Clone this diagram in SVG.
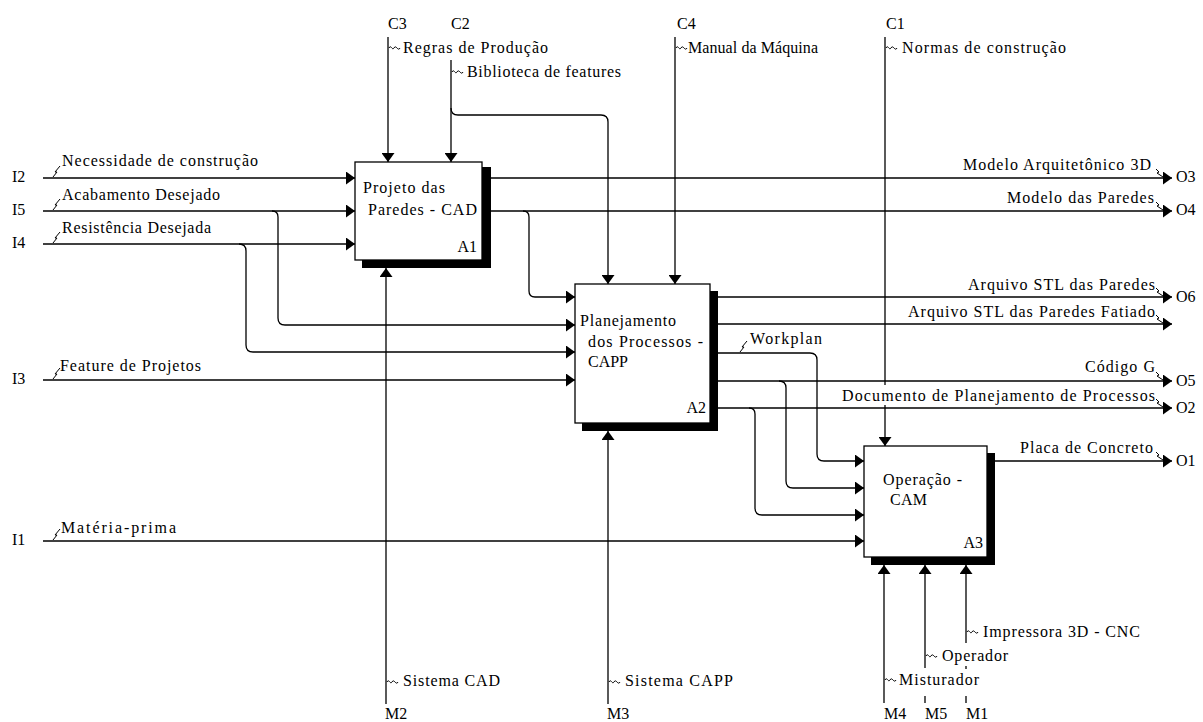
<svg xmlns="http://www.w3.org/2000/svg" width="1203" height="722" viewBox="0 0 1203 722">
<defs>
<style>
.ln{stroke:#000;stroke-width:1.3;fill:none}
.sq{stroke:#000;stroke-width:1;fill:none}
.t{font-family:"Liberation Serif","Times New Roman",serif;font-size:16px;fill:#000}
.box{fill:#fff;stroke:#000;stroke-width:1.3}
.sh{fill:#000}
</style>
<marker id="ah" markerWidth="10" markerHeight="13" refX="9" refY="6.5" orient="auto" markerUnits="userSpaceOnUse">
<path d="M0,0 L9,6.5 L0,13 z" fill="#000"/>
</marker>
</defs>
<rect width="1203" height="722" fill="#fff"/>

<g id="connectors">
<!-- inputs -->
<path class="ln" marker-end="url(#ah)" d="M43,178 H355"/>
<path class="ln" marker-end="url(#ah)" d="M43,211 H355"/>
<path class="ln" marker-end="url(#ah)" d="M43,244 H355"/>
<path class="ln" marker-end="url(#ah)" d="M43,380 H575"/>
<path class="ln" marker-end="url(#ah)" d="M43,541 H864"/>
<path class="ln" marker-end="url(#ah)" d="M272,211 Q278,211 278,217 V318 Q278,325 285,325 H575"/>
<path class="ln" marker-end="url(#ah)" d="M239,244 Q246,244 246,251 V345 Q246,352 253,352 H575"/>
<!-- controls -->
<path class="ln" marker-end="url(#ah)" d="M388,37 V162"/>
<path class="ln" marker-end="url(#ah)" d="M451,60 V162"/>
<path class="ln" marker-end="url(#ah)" d="M451,108 Q451,115 458,115 H601 Q608,115 608,122 V284"/>
<path class="ln" marker-end="url(#ah)" d="M675,37 V284"/>
<path class="ln" d="M885,37 V385"/>
<path class="ln" marker-end="url(#ah)" d="M885,405 V446"/>
<!-- mechanisms -->
<path class="ln" marker-end="url(#ah)" d="M386,704 V268"/>
<path class="ln" marker-end="url(#ah)" d="M608,704 V431"/>
<path class="ln" marker-end="url(#ah)" d="M884,703 V565"/>
<path class="ln" marker-end="url(#ah)" d="M925,668 V565"/>
<path class="ln" d="M925,696 V703"/>
<path class="ln" marker-end="url(#ah)" d="M966,643 V565"/>
<path class="ln" d="M966,666 V669"/>
<path class="ln" d="M966,696 V703"/>
<!-- outputs -->
<path class="ln" marker-end="url(#ah)" d="M491,178 H1172"/>
<path class="ln" marker-end="url(#ah)" d="M491,211 H1172"/>
<path class="ln" marker-end="url(#ah)" d="M523,211 Q529,211 529,217 V291 Q529,297 535,297 H575"/>
<path class="ln" marker-end="url(#ah)" d="M718,297 H1172"/>
<path class="ln" marker-end="url(#ah)" d="M718,324 H1172"/>
<path class="ln" marker-end="url(#ah)" d="M718,353 H810 Q817,353 817,360 V454 Q817,461 824,461 H864"/>
<path class="ln" marker-end="url(#ah)" d="M718,381 H1172"/>
<path class="ln" marker-end="url(#ah)" d="M779,381 Q786,381 786,388 V481 Q786,488 793,488 H864"/>
<path class="ln" marker-end="url(#ah)" d="M718,408 H1172"/>
<path class="ln" marker-end="url(#ah)" d="M749,408 Q755,408 755,414 V508 Q755,515 762,515 H864"/>
<path class="ln" marker-end="url(#ah)" d="M995,461 H1172"/>

<!-- squiggles: inputs -->
<path class="sq" d="M53,177 L57,172 L55,172 L60,166"/>
<path class="sq" d="M53,210 L57,205 L55,205 L60,199"/>
<path class="sq" d="M53,243 L57,238 L55,238 L60,232"/>
<path class="sq" d="M53,379 L57,374 L55,374 L60,368"/>
<path class="sq" d="M53,540 L57,535 L55,535 L60,529"/>
<path class="sq" d="M740,352 L744,347 L742,347 L747,341"/>
<!-- squiggles: outputs -->
<path class="sq" d="M1156,169 L1159,172 L1157,173 L1163,177"/>
<path class="sq" d="M1156,202 L1159,205 L1157,206 L1163,210"/>
<path class="sq" d="M1156,288 L1159,291 L1157,292 L1163,296"/>
<path class="sq" d="M1156,315 L1159,318 L1157,319 L1163,323"/>
<path class="sq" d="M1156,372 L1159,375 L1157,376 L1163,380"/>
<path class="sq" d="M1156,399 L1159,402 L1157,403 L1163,407"/>
<path class="sq" d="M1156,452 L1159,455 L1157,456 L1163,460"/>
<!-- squiggles: controls / mechanisms -->
<path class="sq" d="M389,48 c2,-4 3,3 5,0 c2,-4 4,4 6,0"/>
<path class="sq" d="M452,72 c2,-4 3,3 5,0 c2,-4 4,4 6,0"/>
<path class="sq" d="M676,48 c2,-4 3,3 5,0 c2,-4 4,4 6,0"/>
<path class="sq" d="M886,48 c2,-4 3,3 5,0 c2,-4 4,4 6,0"/>
<path class="sq" d="M387,682 c2,-4 3,3 5,0 c2,-4 4,4 6,0"/>
<path class="sq" d="M609,682 c2,-4 3,3 5,0 c2,-4 4,4 6,0"/>
<path class="sq" d="M885,680 c2,-4 3,3 5,0 c2,-4 4,4 6,0"/>
<path class="sq" d="M926,656 c2,-4 3,3 5,0 c2,-4 4,4 6,0"/>
<path class="sq" d="M967,632 c2,-4 3,3 5,0 c2,-4 4,4 6,0"/>
</g>

<g id="A1">
<rect class="sh" x="362" y="167" width="129" height="101"/>
<rect class="box" x="355" y="162" width="127" height="98"/>
<text class="t" x="363" y="193" textLength="82" lengthAdjust="spacing">Projeto das</text>
<text class="t" x="368" y="215" textLength="109" lengthAdjust="spacing">Paredes - CAD</text>
<text class="t" x="477" y="252" text-anchor="end">A1</text>
</g>

<g id="A2">
<rect class="sh" x="582" y="291" width="136" height="140"/>
<rect class="box" x="575" y="284" width="135" height="139"/>
<text class="t" x="580" y="326" textLength="96" lengthAdjust="spacing">Planejamento</text>
<text class="t" x="588" y="347" textLength="115" lengthAdjust="spacing">dos Processos -</text>
<text class="t" x="588" y="367" textLength="40" lengthAdjust="spacing">CAPP</text>
<text class="t" x="706" y="413" text-anchor="end">A2</text>
</g>

<g id="A3">
<rect class="sh" x="871" y="453" width="124" height="112"/>
<rect class="box" x="864" y="446" width="123" height="111"/>
<text class="t" x="883" y="485" textLength="79" lengthAdjust="spacing">Operação -</text>
<text class="t" x="890" y="505" textLength="37" lengthAdjust="spacing">CAM</text>
<text class="t" x="983" y="548" text-anchor="end">A3</text>
</g>

<g id="labels">
<!-- ICOM codes -->
<text class="t" x="12" y="182">I2</text>
<text class="t" x="12" y="215">I5</text>
<text class="t" x="12" y="248">I4</text>
<text class="t" x="12" y="384">I3</text>
<text class="t" x="12" y="545">I1</text>
<text class="t" x="388" y="29">C3</text>
<text class="t" x="451" y="29">C2</text>
<text class="t" x="677" y="29">C4</text>
<text class="t" x="886" y="29">C1</text>
<text class="t" x="1176" y="182">O3</text>
<text class="t" x="1176" y="215">O4</text>
<text class="t" x="1176" y="302">O6</text>
<text class="t" x="1176" y="386">O5</text>
<text class="t" x="1176" y="413">O2</text>
<text class="t" x="1176" y="466">O1</text>
<text class="t" x="385" y="719">M2</text>
<text class="t" x="607" y="719">M3</text>
<text class="t" x="884" y="719">M4</text>
<text class="t" x="925" y="719">M5</text>
<text class="t" x="966" y="719">M1</text>
<!-- arrow labels -->
<text class="t" x="62" y="166" textLength="196" lengthAdjust="spacing">Necessidade de construção</text>
<text class="t" x="62" y="200" textLength="158" lengthAdjust="spacing">Acabamento Desejado</text>
<text class="t" x="62" y="233" textLength="149" lengthAdjust="spacing">Resistência Desejada</text>
<text class="t" x="60" y="371" textLength="141" lengthAdjust="spacing">Feature de Projetos</text>
<text class="t" x="61" y="533" textLength="115" lengthAdjust="spacing">Matéria-prima</text>
<text class="t" x="403" y="53" textLength="145" lengthAdjust="spacing">Regras de Produção</text>
<text class="t" x="467" y="77" textLength="154" lengthAdjust="spacing">Biblioteca de features</text>
<text class="t" x="688" y="53" textLength="130" lengthAdjust="spacing">Manual da Máquina</text>
<text class="t" x="902" y="53" textLength="164" lengthAdjust="spacing">Normas de construção</text>
<text class="t" x="963" y="170" textLength="188" lengthAdjust="spacing">Modelo Arquitetônico 3D</text>
<text class="t" x="1007" y="203" textLength="147" lengthAdjust="spacing">Modelo das Paredes</text>
<text class="t" x="968" y="290" textLength="187" lengthAdjust="spacing">Arquivo STL das Paredes</text>
<text class="t" x="908" y="317" textLength="247" lengthAdjust="spacing">Arquivo STL das Paredes Fatiado</text>
<text class="t" x="750" y="344" textLength="72" lengthAdjust="spacing">Workplan</text>
<text class="t" x="1085" y="372" textLength="70" lengthAdjust="spacing">Código G</text>
<text class="t" x="842" y="401" textLength="313" lengthAdjust="spacing">Documento de Planejamento de Processos</text>
<text class="t" x="1020" y="453" textLength="133" lengthAdjust="spacing">Placa de Concreto</text>
<text class="t" x="403" y="686" textLength="97" lengthAdjust="spacing">Sistema CAD</text>
<text class="t" x="625" y="686" textLength="108" lengthAdjust="spacing">Sistema CAPP</text>
<text class="t" x="899" y="685" textLength="80" lengthAdjust="spacing">Misturador</text>
<text class="t" x="942" y="661" textLength="66" lengthAdjust="spacing">Operador</text>
<text class="t" x="983" y="637" textLength="157" lengthAdjust="spacing">Impressora 3D - CNC</text>
</g>
</svg>
